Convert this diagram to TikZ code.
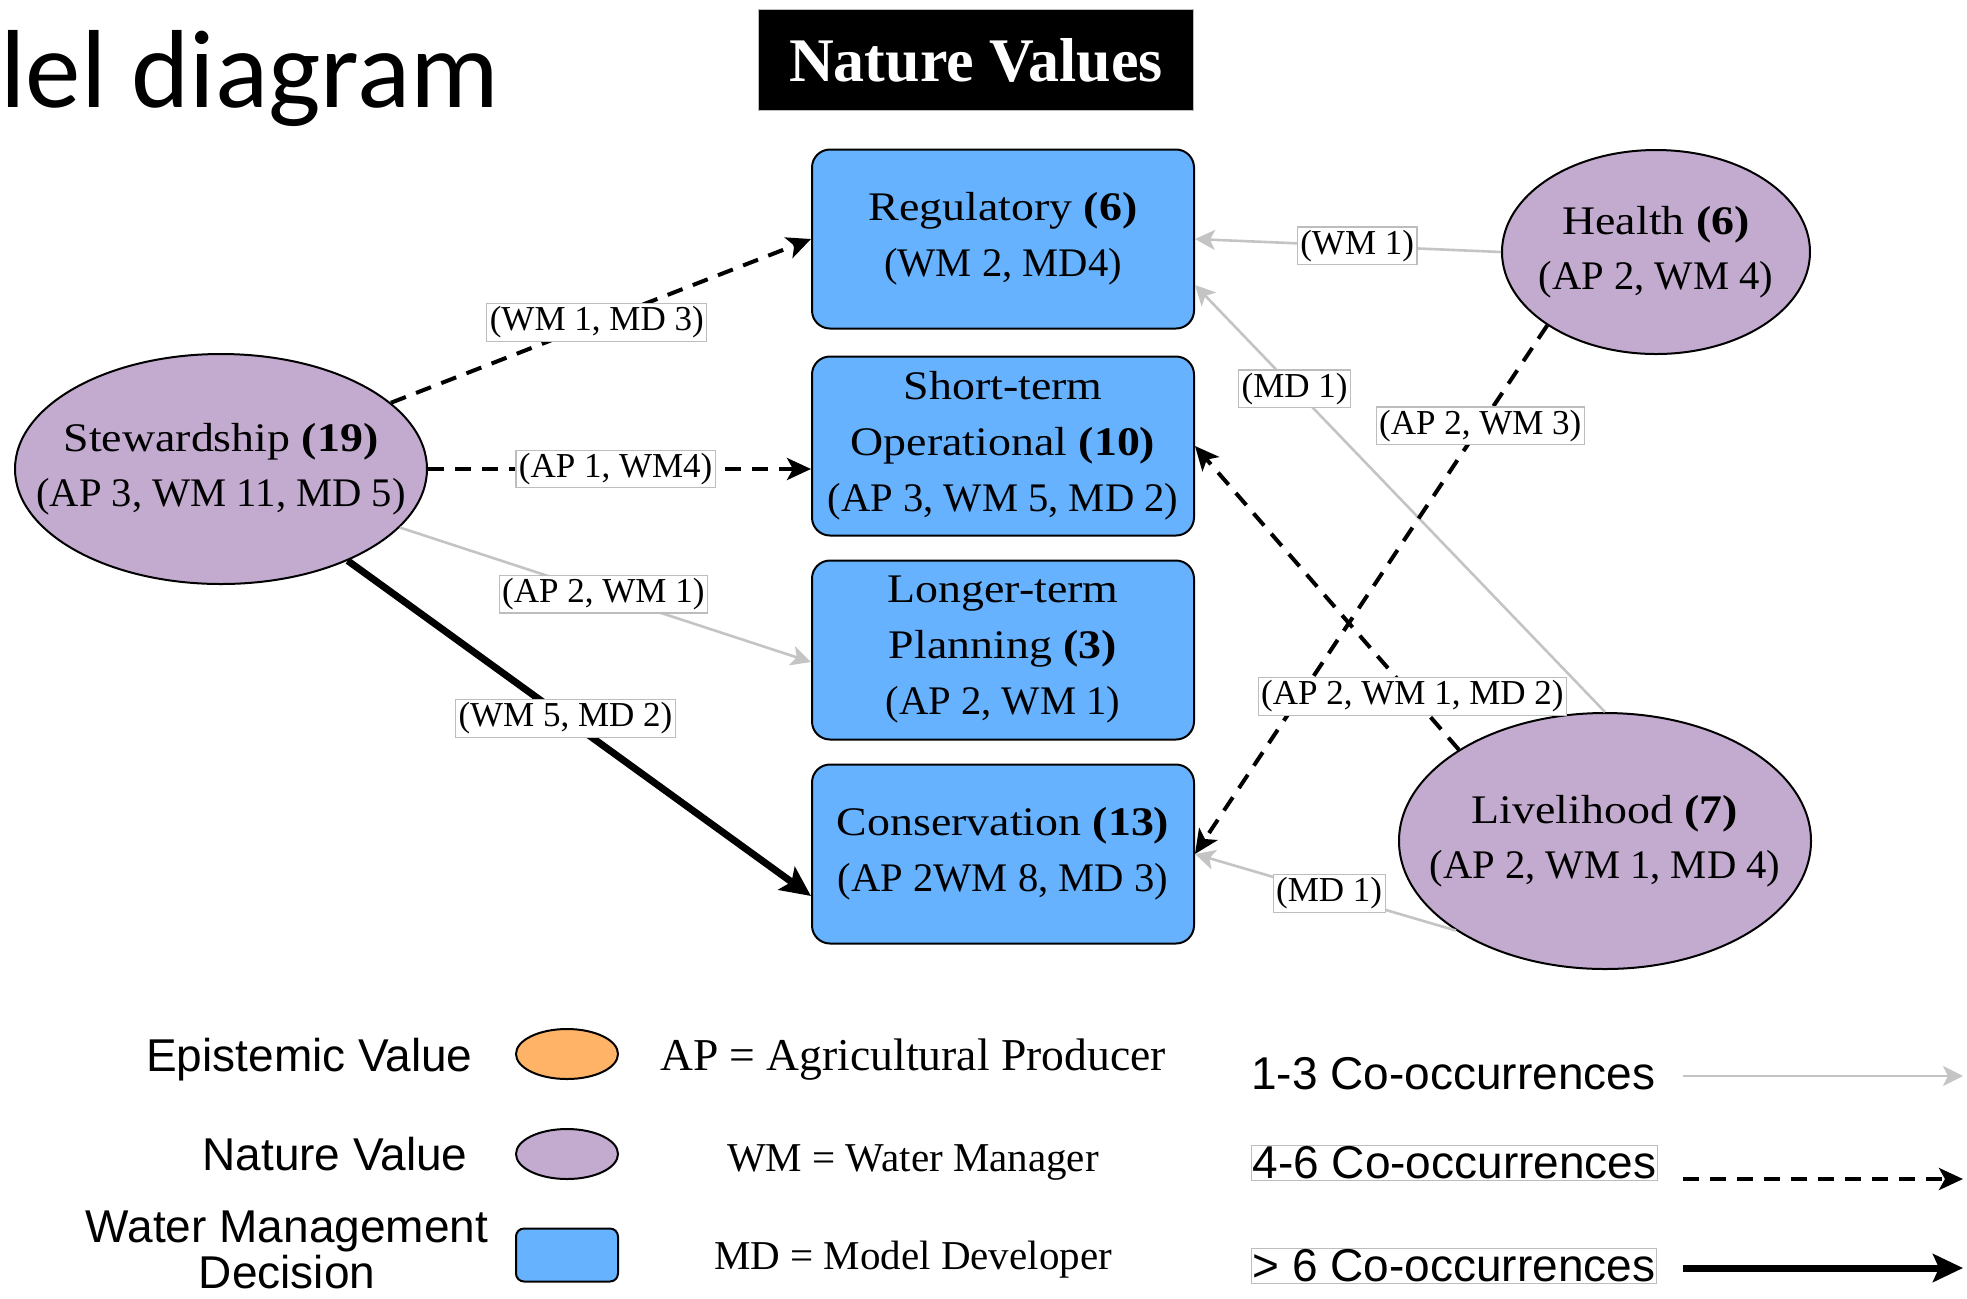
\documentclass[tikz,border=0pt]{standalone}
\usepackage{fontspec}
\setmainfont{Liberation Serif}
\setsansfont{Liberation Sans}
\newfontfamily\titlefont{Carlito}
\newfontfamily\wideserif{Liberation Serif}[FakeStretch=1.13]
\usepackage{tikz}
\usetikzlibrary{arrows.meta}
\usetikzlibrary{shapes.geometric}

\definecolor{decblue}{HTML}{66B2FF}
\definecolor{valpurple}{HTML}{C3ABD0}
\definecolor{epiorange}{HTML}{FFB366}
\definecolor{lowgray}{HTML}{C4C4C4}
\definecolor{framegray}{HTML}{BDBDBD}

\begin{document}
\begin{tikzpicture}[x=0.5pt,y=-0.5pt,
    decision/.style={draw=black,line width=1pt,fill=decblue,rounded corners=9pt,
      minimum width=191pt,minimum height=89.5pt,align=center,inner sep=1pt,
      font=\fontsize{20.3}{28}\selectfont},
    value/.style={draw=black,line width=1pt,fill=valpurple,ellipse,inner sep=0pt},
    valtext/.style={align=center,inner sep=0pt,font=\fontsize{20.3}{27.5}\selectfont},
    tag/.style={solid,draw=framegray,line width=0.6pt,fill=white,inner sep=1.5pt,
      font=\fontsize{17.5}{20}\selectfont},
    low/.style={draw=lowgray,line width=1.3pt,-{Stealth[length=10pt,width=10pt,inset=2.5pt]}},
    mid/.style={draw=black,line width=2pt,dash pattern=on 8pt off 5.5pt,
      -{Stealth[length=12pt,width=11pt,inset=3pt]}},
    high/.style={draw=black,line width=3.5pt,-{Stealth[length=15pt,width=14pt,inset=3pt]}},
    legtext/.style={font=\sffamily\fontsize{23}{24}\selectfont,inner sep=0pt},
    legserif/.style={font=\fontsize{20.5}{24}\selectfont,inner sep=0pt}
  ]
\useasboundingbox (0,0) rectangle (1967,1298);

% heading
\node[anchor=base west,inner sep=0pt,font=\titlefont\fontsize{55.5}{60}\selectfont] (title) at (0,107) {lel diagram};
\node[fill=black,draw=framegray,line width=0.6pt,minimum width=217.5pt,minimum height=50.5pt,
  text=white,font=\bfseries\fontsize{31}{34}\selectfont] (natval) at (976,60) {Nature Values};

% decisions
\node[decision] (reg) at (1003,239) {{\wideserif Regulatory \textbf{(6)}}\\(WM 2, MD4)};
\node[decision] (short) at (1003,446) {{\wideserif Short-term}\\{\wideserif Operational \textbf{(10)}}\\(AP 3, WM 5, MD 2)};
\node[decision] (long) at (1003,650) {{\wideserif Longer-term}\\{\wideserif Planning \textbf{(3)}}\\(AP 2, WM 1)};
\node[decision] (cons) at (1003,854) {{\wideserif Conservation \textbf{(13)}}\\(AP 2WM 8, MD 3)};

% nature values
\node[value,minimum width=206pt,minimum height=115pt] (stew) at (221,469) {};
\node[valtext] (stewtxt) at (stew) {{\wideserif Stewardship \textbf{(19)}}\\(AP 3, WM 11, MD 5)};
\node[value,minimum width=154pt,minimum height=102pt] (health) at (1656,252) {};
\node[valtext] (healthtxt) at (health) {{\wideserif Health \textbf{(6)}}\\(AP 2, WM 4)};
\node[value,minimum width=206pt,minimum height=128pt] (liv) at (1605,841) {};
\node[valtext] (livtxt) at (liv) {{\wideserif Livelihood \textbf{(7)}}\\(AP 2, WM 1, MD 4)};

% links
\draw[mid] (stew) -- (reg.west) node[tag,pos=0.49] {(WM 1, MD 3)};
\draw[mid] (stew.east) -- (stew.east -| short.west) node[tag,pos=0.49] {(AP 1, WM4)};
\draw[low] (stew) -- ([yshift=-6pt]long.west) node[tag,pos=0.495] {(AP 2, WM 1)};
\draw[high] (stew) -- ([yshift=-21pt]cons.west) node[tag,pos=0.47] {(WM 5, MD 2)};
\draw[low] (health.west) -- (reg.east) node[tag,pos=0.47] {(WM 1)};
\draw[low] (liv.north) -- ([yshift=-23pt]reg.east) node[tag,pos=0.757] {(MD 1)};
\draw[mid] (health.214) -- (cons.east) node[tag,pos=0.19] {(AP 2, WM 3)};
\draw[mid] (liv.148) -- (short.east) node[tag,pos=0.176] {(AP 2, WM 1, MD 2)};
\draw[low] (liv.211) -- (cons.east) node[tag,pos=0.486] {(MD 1)};

% legend
\node[legtext,anchor=east] (epitxt) at (473,1060) {Epistemic Value};
\node[draw=black,line width=1pt,fill=epiorange,ellipse,minimum width=51pt,minimum height=25pt] (epikey) at (567,1054) {};
\node[legtext,anchor=east] (valtxt) at (468,1154) {Nature Value};
\node[draw=black,line width=1pt,fill=valpurple,ellipse,minimum width=51pt,minimum height=25pt] (valkey) at (567,1154) {};
\node[legtext,align=center,font=\sffamily\fontsize{23}{23}\selectfont] (dectxt) at (287,1250) {Water Management\\Decision};
\node[draw=black,line width=1pt,fill=decblue,rounded corners=4pt,minimum width=51pt,minimum height=26.5pt] (deckey) at (567,1255) {};

\node[legserif,font=\fontsize{22.8}{24}\selectfont] (aptxt) at (913,1060) {AP = Agricultural Producer};
\node[legserif] (wmtxt) at (913,1162) {WM = Water Manager};
\node[legserif] (mdtxt) at (913,1260) {MD = Model Developer};

\node[legtext,anchor=west] (lowtxt) at (1251,1074) {1-3 Co-occurrences};
\node[legtext,anchor=west,draw=framegray,line width=0.6pt,inner sep=0.5pt] (midtxt) at (1251,1163) {4-6 Co-occurrences};
\node[legtext,anchor=west,draw=framegray,line width=0.6pt,inner sep=0.5pt] (hightxt) at (1251,1266) {> 6 Co-occurrences};
\coordinate (lowa) at (1683,1076);
\coordinate (lowb) at (1963,1076);
\coordinate (mida) at (1683,1179);
\coordinate (midb) at (1963,1179);
\coordinate (higha) at (1683,1268);
\coordinate (highb) at (1963,1268);
\draw[low] (lowa) -- (lowb);
\draw[mid] (mida) -- (midb);
\draw[high] (higha) -- (highb);
\end{tikzpicture}
\end{document}
